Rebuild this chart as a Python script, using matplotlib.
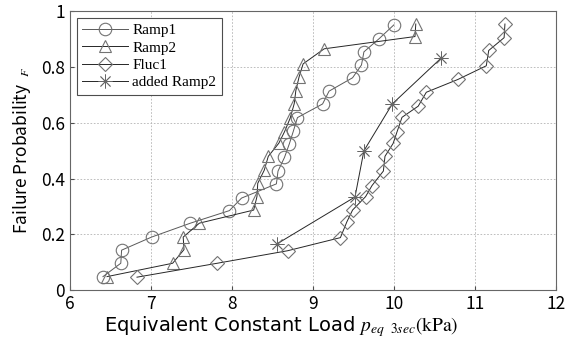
import matplotlib
matplotlib.use("Agg")
import matplotlib.pyplot as plt

# failure probability levels
ramp1_load = [6.41, 6.63, 6.64, 7.01, 7.49, 7.97, 8.12, 8.55, 8.57, 8.65,
              8.71, 8.76, 8.81, 9.12, 9.20, 9.49, 9.60, 9.63, 9.82, 10.00]
ramp1_prob = [0.048, 0.096, 0.143, 0.190, 0.240, 0.285, 0.330, 0.381, 0.427, 0.476,
              0.525, 0.571, 0.619, 0.668, 0.714, 0.762, 0.808, 0.855, 0.903, 0.952]

ramp2_load = [6.46, 7.27, 7.41, 7.40, 7.60, 8.27, 8.31, 8.32, 8.40, 8.45,
              8.58, 8.65, 8.72, 8.77, 8.79, 8.83, 8.88, 9.14, 10.26, 10.27]
ramp2_prob = [0.048, 0.096, 0.145, 0.190, 0.240, 0.287, 0.335, 0.383, 0.430, 0.480,
              0.527, 0.568, 0.617, 0.669, 0.716, 0.765, 0.812, 0.866, 0.910, 0.955]

fluc1_load = [6.83, 7.82, 8.69, 9.34, 9.42, 9.49, 9.65, 9.73, 9.87, 9.89,
              9.99, 10.04, 10.10, 10.30, 10.40, 10.79, 11.14, 11.17, 11.36, 11.37]
fluc1_prob = [0.046, 0.096, 0.141, 0.188, 0.245, 0.287, 0.335, 0.375, 0.427, 0.480,
              0.526, 0.569, 0.620, 0.660, 0.710, 0.756, 0.805, 0.860, 0.906, 0.955]

added_load = [8.56, 9.52, 9.63, 9.98, 10.58]
added_prob = [0.166, 0.334, 0.500, 0.668, 0.832]

x_ticks = [6, 7, 8, 9, 10, 11, 12]
y_ticks = [0, 0.2, 0.4, 0.6, 0.8, 1]
y_tick_labels = ["0", "0.2", "0.4", "0.6", "0.8", "1"]

plt.rcParams["font.family"] = ["Noto Sans CJK JP", "DejaVu Sans"]
plt.rcParams["mathtext.fontset"] = "stix"

fig = plt.figure(figsize=(5.73, 3.47), dpi=100)
ax = fig.add_axes([0.1217, 0.1643, 0.8486, 0.8026])

line_kw = dict(color="0.15", linewidth=0.7, markerfacecolor="none",
               markeredgecolor="0.45", markeredgewidth=0.8, markersize=9)
ax.plot(ramp1_load, ramp1_prob, marker="o", label="Ramp1",
        **{**line_kw, "color": "0.35"})
ax.plot(ramp2_load, ramp2_prob, marker="^", label="Ramp2", **line_kw)
ax.plot(fluc1_load, fluc1_prob, marker="D", label="Fluc1",
        **{**line_kw, "markersize": 7.5})
# matlab style asterisk: eight spokes
ax.plot(added_load, added_prob, marker=(8, 2, 0), label="added Ramp2",
        **{**line_kw, "markersize": 10, "markeredgewidth": 0.6,
           "markeredgecolor": "0.4"})

ax.set_xlim(6, 12)
ax.set_ylim(0, 1)
ax.set_xticks(x_ticks)
ax.set_yticks(y_ticks)
ax.set_yticklabels(y_tick_labels)
ax.tick_params(labelsize=12.5, direction="in", length=3, color="0.3")
ax.grid(True, linestyle=(0, (2, 2)), color="0.7", linewidth=0.6)
for s in ax.spines.values():
    s.set_color("0.4")

ax.set_xlabel(r"Equivalent Constant Load $p_{eq\ \ 3sec}\mathrm{(kPa)}$",
              fontsize=14, family="DejaVu Sans")
ax.xaxis.set_label_coords(0.434, -0.085)
ax.set_ylabel(r"Failure Probability  $_F$", fontsize=12.5, labelpad=6)

leg = ax.legend(loc="upper left", prop={"family": "Liberation Serif", "size": 11},
                handlelength=3.0, labelspacing=0.24, borderpad=0.35,
                handletextpad=0.3, fancybox=False, framealpha=1,
                edgecolor="0.3", borderaxespad=0.45)
leg.get_frame().set_linewidth(0.8)

fig.savefig("out.png", dpi=100)
